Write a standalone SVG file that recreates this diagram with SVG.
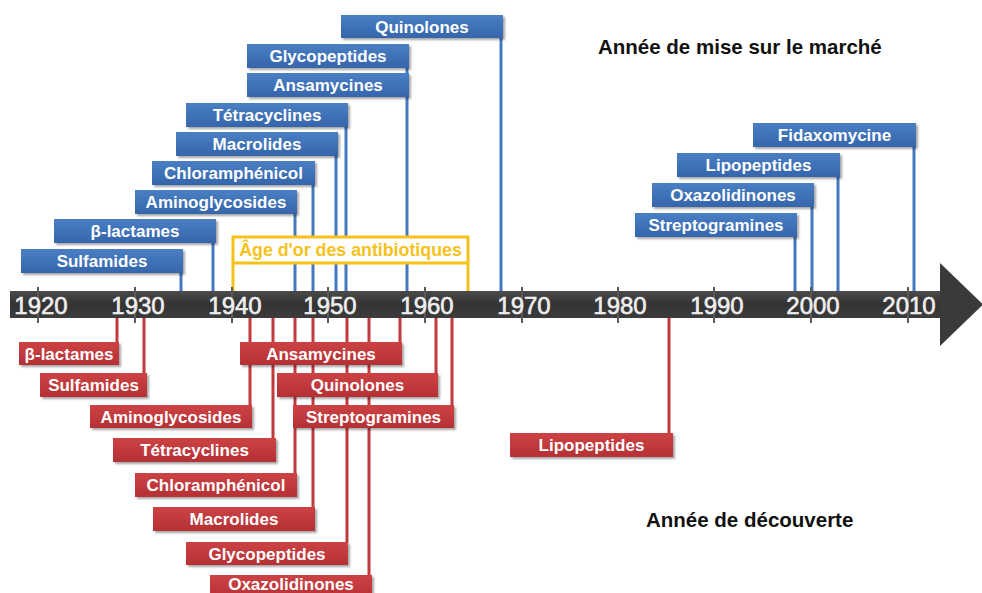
<svg xmlns="http://www.w3.org/2000/svg" width="982" height="593" viewBox="0 0 982 593">
<defs>
<filter id="sh" x="-10%" y="-30%" width="125%" height="170%">
<feDropShadow dx="2" dy="2" stdDeviation="1.2" flood-color="#000" flood-opacity="0.35"/>
</filter>
<linearGradient id="gb" x1="0" y1="0" x2="0" y2="1">
<stop offset="0" stop-color="#4a7fc4"/><stop offset="1" stop-color="#3565ab"/>
</linearGradient>
<linearGradient id="gr" x1="0" y1="0" x2="0" y2="1">
<stop offset="0" stop-color="#cc4345"/><stop offset="1" stop-color="#b53034"/>
</linearGradient>
<linearGradient id="gax" x1="0" y1="0" x2="0" y2="1">
<stop offset="0" stop-color="#4a4a4a"/><stop offset="0.5" stop-color="#333"/><stop offset="1" stop-color="#3c3c3c"/>
</linearGradient>
</defs>
<style>
.bb{fill:url(#gb);filter:url(#sh)}
.rb{fill:url(#gr);filter:url(#sh)}
.t{font-family:"Liberation Sans",Arial,sans-serif;font-weight:bold;font-size:17px;fill:#fff;text-anchor:middle}
.bl{stroke:#4479c0;stroke-width:3;fill:none}
.rl{stroke:#c23a3d;stroke-width:3;fill:none}
.yr{font-family:"Liberation Sans",Arial,sans-serif;font-size:24px;fill:#eeeeee;stroke:#eeeeee;stroke-width:0.6;text-anchor:middle}
.tick{stroke:#5a5a5a;stroke-width:2}
.hd{font-family:"Liberation Sans",Arial,sans-serif;font-weight:bold;font-size:20.5px;fill:#111}
</style>
<rect width="982" height="593" fill="#fff"/>

<g id="connectors">
<path class="bl" d="M501 38V291M407 67V291M346 127V291M336 156V291M313 185V291M295 214V291M213 243V291M181 273V291M795 237V291M812 207V291M838 177V291M914 147V291"/>
<path class="rl" d="M117 318V343M144 318V374M250 318V406M273 318V439M295 318V474M313 318V508M347 318V543M369 318V576M400 318V343M436 318V374M452 318V406M669 318V434"/>
</g>

<g id="golden-age">
<rect x="233" y="237" width="235" height="26" fill="#fff" stroke="#f5c21b" stroke-width="3"/>
<path d="M233 263V292M468 263V292" stroke="#f5c21b" stroke-width="3" fill="none"/>
<text x="350.5" y="256" font-family="'Liberation Sans',Arial,sans-serif" font-weight="bold" font-size="17.8" fill="#f5c21b" text-anchor="middle">Âge d'or des antibiotiques</text>
</g>

<g id="axis">
<rect x="10" y="291" width="932" height="27" fill="url(#gax)"/>
<polygon points="940,263 983,304.5 940,346" fill="#3a3a3a"/>
<path class="tick" d="M38 287V323M135 287V323M232 287V323M328 287V323M425 287V323M522 287V323M618 287V323M714 287V323M811 287V323M908 287V323"/>
<text class="yr" x="41" y="314">1920</text>
<text class="yr" x="138" y="314">1930</text>
<text class="yr" x="235" y="314">1940</text>
<text class="yr" x="330" y="314">1950</text>
<text class="yr" x="427" y="314">1960</text>
<text class="yr" x="524" y="314">1970</text>
<text class="yr" x="620" y="314">1980</text>
<text class="yr" x="717" y="314">1990</text>
<text class="yr" x="813" y="314">2000</text>
<text class="yr" x="909" y="314">2010</text>
</g>

<g id="m-quinolones"><rect class="bb" x="341" y="15" width="162" height="23"/><text class="t" x="422" y="33">Quinolones</text></g>
<g id="m-glycopeptides"><rect class="bb" x="247" y="44" width="162" height="24"/><text class="t" x="328" y="62">Glycopeptides</text></g>
<g id="m-ansamycines"><rect class="bb" x="247" y="73" width="162" height="24"/><text class="t" x="328" y="91">Ansamycines</text></g>
<g id="m-tetracyclines"><rect class="bb" x="186" y="103" width="162" height="24"/><text class="t" x="267" y="121">Tétracyclines</text></g>
<g id="m-macrolides"><rect class="bb" x="176" y="132" width="162" height="24"/><text class="t" x="257" y="150">Macrolides</text></g>
<g id="m-chloramphenicol"><rect class="bb" x="152" y="161" width="163" height="24"/><text class="t" x="233.5" y="179">Chloramphénicol</text></g>
<g id="m-aminoglycosides"><rect class="bb" x="135" y="190" width="162" height="24"/><text class="t" x="216" y="208">Aminoglycosides</text></g>
<g id="m-betalactames"><rect class="bb" x="54" y="219" width="162" height="24"/><text class="t" x="135" y="237">β-lactames</text></g>
<g id="m-sulfamides"><rect class="bb" x="21" y="249" width="162" height="24"/><text class="t" x="102" y="267">Sulfamides</text></g>
<g id="m-fidaxomycine"><rect class="bb" x="753" y="123" width="163" height="24"/><text class="t" x="834.5" y="141">Fidaxomycine</text></g>
<g id="m-lipopeptides"><rect class="bb" x="677" y="153" width="163" height="24"/><text class="t" x="758.5" y="171">Lipopeptides</text></g>
<g id="m-oxazolidinones"><rect class="bb" x="652" y="183" width="162" height="24"/><text class="t" x="733" y="201">Oxazolidinones</text></g>
<g id="m-streptogramines"><rect class="bb" x="635" y="213" width="162" height="24"/><text class="t" x="716" y="231">Streptogramines</text></g>

<g id="d-betalactames"><rect class="rb" x="19" y="342" width="100" height="23"/><text class="t" x="69" y="360">β-lactames</text></g>
<g id="d-sulfamides"><rect class="rb" x="40" y="373" width="107" height="24"/><text class="t" x="93.5" y="391">Sulfamides</text></g>
<g id="d-aminoglycosides"><rect class="rb" x="90" y="405" width="162" height="23"/><text class="t" x="171" y="423">Aminoglycosides</text></g>
<g id="d-tetracyclines"><rect class="rb" x="113" y="438" width="163" height="24"/><text class="t" x="194.5" y="456">Tétracyclines</text></g>
<g id="d-chloramphenicol"><rect class="rb" x="135" y="473" width="162" height="24"/><text class="t" x="216" y="491">Chloramphénicol</text></g>
<g id="d-macrolides"><rect class="rb" x="153" y="507" width="162" height="24"/><text class="t" x="234" y="525">Macrolides</text></g>
<g id="d-glycopeptides"><rect class="rb" x="186" y="542" width="162" height="23"/><text class="t" x="267" y="560">Glycopeptides</text></g>
<g id="d-oxazolidinones"><rect class="rb" x="210" y="575" width="162" height="24"/><text class="t" x="291" y="590">Oxazolidinones</text></g>
<g id="d-ansamycines"><rect class="rb" x="240" y="342" width="162" height="23"/><text class="t" x="321" y="360">Ansamycines</text></g>
<g id="d-quinolones"><rect class="rb" x="277" y="373" width="161" height="24"/><text class="t" x="357.5" y="391">Quinolones</text></g>
<g id="d-streptogramines"><rect class="rb" x="293" y="405" width="161" height="23"/><text class="t" x="373.5" y="423">Streptogramines</text></g>
<g id="d-lipopeptides"><rect class="rb" x="510" y="433" width="163" height="24"/><text class="t" x="591.5" y="451">Lipopeptides</text></g>

<text class="hd" x="598" y="54">Année de mise sur le marché</text>
<text class="hd" x="646" y="527">Année de découverte</text>
</svg>
